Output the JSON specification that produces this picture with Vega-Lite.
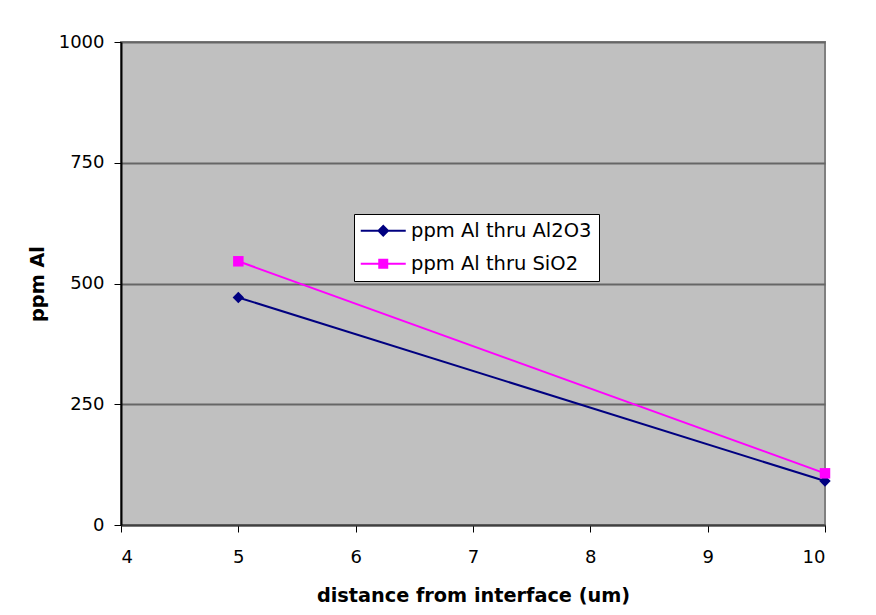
{
  "$schema": "https://vega.github.io/schema/vega-lite/v6.json",
  "width": 704,
  "height": 483,
  "autosize": {"type": "none"},
  "padding": {"left": 121, "top": 42, "right": 51, "bottom": 90},
  "background": "white",
  "config": {
    "font": "DejaVu Sans",
    "view": {"fill": "#C0C0C0", "stroke": "#808080", "strokeWidth": 2}
  },
  "data": {
    "values": [
      {"distance": 5, "ppm": 471, "series": "ppm Al thru Al2O3"},
      {"distance": 10, "ppm": 91, "series": "ppm Al thru Al2O3"},
      {"distance": 5, "ppm": 546, "series": "ppm Al thru SiO2"},
      {"distance": 10, "ppm": 107, "series": "ppm Al thru SiO2"}
    ]
  },
  "encoding": {
    "x": {
      "field": "distance",
      "type": "quantitative",
      "scale": {"domain": [4, 10], "nice": false, "zero": false},
      "axis": {
        "title": "distance from interface (um)",
        "values": [4, 5, 6, 7, 8, 9, 10],
        "format": "d",
        "grid": false,
        "domainColor": "#404040",
        "domainWidth": 2,
        "tickColor": "#000000",
        "tickSize": 7,
        "labelFontSize": 18,
        "labelColor": "#000000",
        "labelPadding": 16,
        "titleFontSize": 19.3,
        "titleFontWeight": "bold",
        "titleColor": "#000000",
        "titlePadding": 20
      }
    },
    "y": {
      "field": "ppm",
      "type": "quantitative",
      "scale": {"domain": [0, 1000], "nice": false},
      "axis": {
        "title": "ppm Al",
        "values": [0, 250, 500, 750, 1000],
        "format": "d",
        "grid": true,
        "gridColor": "#666666",
        "gridWidth": 2,
        "gridOpacity": 1,
        "domainColor": "#000000",
        "domainWidth": 2,
        "tickColor": "#000000",
        "tickSize": 7,
        "labelFontSize": 18,
        "labelColor": "#000000",
        "labelPadding": 10,
        "titleFontSize": 19.3,
        "titleFontWeight": "bold",
        "titleColor": "#000000",
        "titlePadding": 11
      }
    },
    "color": {
      "field": "series",
      "type": "nominal",
      "scale": {
        "domain": ["ppm Al thru Al2O3", "ppm Al thru SiO2"],
        "range": ["#000080", "#FF00FF"]
      },
      "legend": {
        "title": null,
        "orient": "none",
        "legendX": 233,
        "legendY": 172,
        "fillColor": "white",
        "strokeColor": "black",
        "padding": 7,
        "labelFontSize": 19.5,
        "labelColor": "#000000",
        "labelLimit": 0,
        "symbolSize": 100,
        "symbolOffset": 12.5,
        "labelOffset": 18,
        "rowPadding": 12,
        "symbolOpacity": 1,
        "symbolStrokeWidth": 2
      }
    }
  },
  "layer": [
    {
      "mark": {"type": "point", "filled": true, "strokeWidth": 2, "size": 0, "opacity": 1},
      "encoding": {
        "stroke": {
          "field": "series",
          "type": "nominal",
          "scale": {"domain": ["ppm Al thru Al2O3", "ppm Al thru SiO2"], "range": ["#000080", "#FF00FF"]},
          "legend": null
        },
        "shape": {
          "field": "series",
          "type": "nominal",
          "scale": {
            "domain": ["ppm Al thru Al2O3", "ppm Al thru SiO2"],
            "range": ["M-4.5,0H4.5M0,-0.95L0.95,0L0,0.95L-0.95,0Z", "M-4.5,0H4.5M-0.8,-0.8H0.8V0.8H-0.8Z"]
          },
          "legend": null
        }
      }
    },
    {"mark": {"type": "line", "strokeWidth": 2}},
    {
      "transform": [{"filter": "datum.series == 'ppm Al thru Al2O3'"}],
      "mark": {"type": "point", "shape": "diamond", "filled": true, "opacity": 1, "strokeWidth": 0, "size": 130}
    },
    {
      "transform": [{"filter": "datum.series == 'ppm Al thru SiO2'"}],
      "mark": {"type": "point", "shape": "square", "filled": true, "opacity": 1, "strokeWidth": 0, "size": 110}
    }
  ]
}
